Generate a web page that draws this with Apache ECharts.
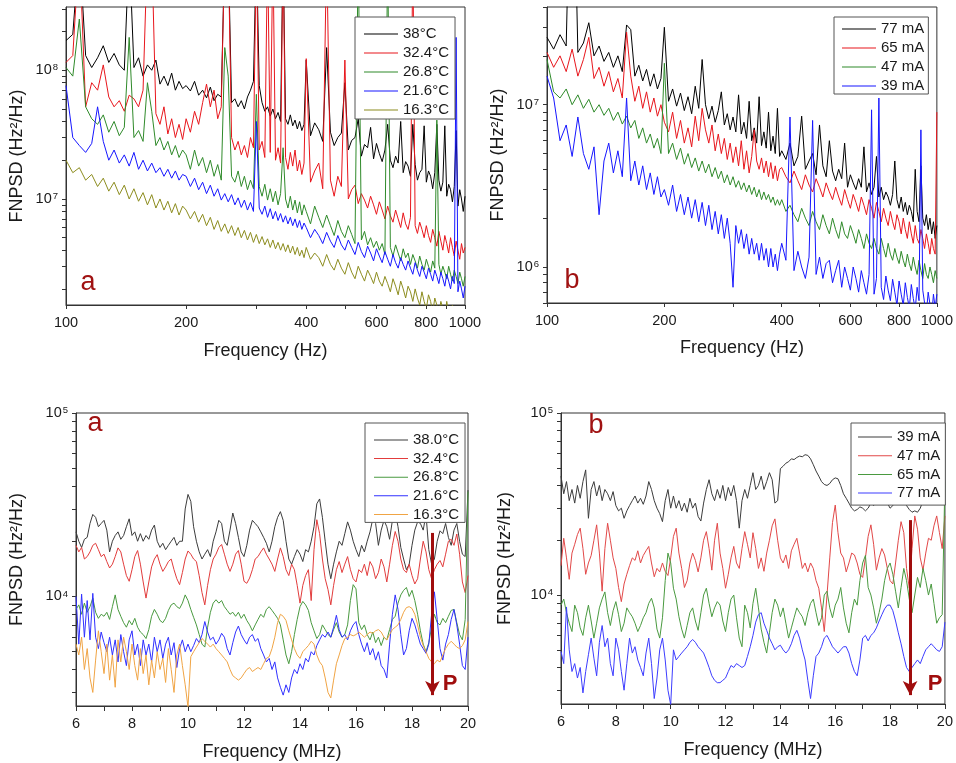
<!DOCTYPE html>
<html><head><meta charset="utf-8">
<script src="https://cdn.jsdelivr.net/npm/echarts@6/dist/echarts.min.js"></script>
<style>html,body{margin:0;padding:0;background:#fff}#c{width:956px;height:763px}</style>
</head><body><div id="c"></div>
<script>
// ---------- frequency grids ----------
const F_TOP = [100,104,108,112,116,120,124,128,132,136,140,144,148,152,156,160,164,168,172,176,180,184,188,192,196,
200,205,210,215,220,225,230,235,240,245,250,255,260,265,270,275,280,285,290,295,300,305,310,315,320,325,330,335,340,345,350,355,360,365,370,375,380,385,390,395,
400,410,420,430,440,450,460,470,480,490,500,510,520,530,540,550,560,570,580,590,600,610,620,630,640,650,660,670,680,690,700,710,720,730,740,750,760,770,780,790,800,810,820,830,840,850,860,870,880,890,900,910,920,930,940,950,960,970,980,990,1000];
const F_BOT = [6,6.1,6.2,6.3,6.4,6.5,6.6,6.7,6.8,6.9,7,7.1,7.2,7.3,7.4,7.5,7.6,7.7,7.8,7.9,8,8.1,8.2,8.3,8.4,8.5,8.6,8.7,8.8,8.9,
9,9.1,9.2,9.3,9.4,9.5,9.6,9.7,9.8,9.9,10,10.1,10.2,10.3,10.4,10.5,10.6,10.7,10.8,10.9,11,11.1,11.2,11.3,11.4,11.5,11.6,11.7,11.8,11.9,
12,12.1,12.2,12.3,12.4,12.5,12.6,12.7,12.8,12.9,13,13.1,13.2,13.3,13.4,13.5,13.6,13.7,13.8,13.9,14,14.1,14.2,14.3,14.4,14.5,14.6,14.7,14.8,14.9,
15,15.1,15.2,15.3,15.4,15.5,15.6,15.7,15.8,15.9,16,16.1,16.2,16.3,16.4,16.5,16.6,16.7,16.8,16.9,17,17.1,17.2,17.3,17.4,17.5,17.6,17.7,17.8,17.9,
18,18.1,18.2,18.3,18.4,18.5,18.6,18.7,18.8,18.9,19,19.1,19.2,19.3,19.4,19.5,19.6,19.7,19.8,19.9,20];

const TOP_UNIT = 1e5;   // top panel values are in units of 1e5 Hz^2/Hz
const BOT_UNIT = 100;   // bottom panel values are in units of 100 Hz^2/Hz

// ---------- top-left (temperature, Hz) ----------
const TL_38 = [1700,1900,9000,1300,1050,1250,1550,1150,1350,1100,1000,9000,1050,1250,900,1100,1000,1200,780,900,760,950,700,820,720,
760,690,820,640,700,610,740,580,650,620,9000,9000,560,600,520,580,500,620,700,820,9000,760,560,480,520,440,500,420,470,400,9000,420,380,450,370,410,350,400,340,380,
1200,310,390,345,280,1500,330,260,300,325, 800,240,285,300,420,215,265,250,360,205, 270,225,195,240,380,200,175,215,190,400,
160,195,180,150,380,185,140,160,170,370, 135,165,150,120,160,380,140,115,135,370, 105,130,118,95,125,340,88,118,100,80, 105];
const TL_32 = [1150,1300,9000,520,800,700,1100,620,520,580,480,640,600,520,700,9000,9000,460,380,520,320,420,300,380,290,
420,330,480,380,560,780,520,700,420,520,9000,9000,300,240,280,220,260,210,300,250,9000,240,280,210,9000,230,9000,200,250,190,9000,210,170,230,180,240,165,200,155,190,
1230,135,165,190,120,9000,140,105,150,125, 1200,100,118,128,92,110,98,85,105,90, 76,95,82,70,88,74,66,82,70,60,
78,64,58,72,9000,62,54,66,58,50, 62,52,46,58,50,43,56,47,40,52, 45,38,50,42,36,47,40,34,45,38, 42];
const TL_26 = [1050,900,2500,520,420,380,450,330,400,310,360,1800,300,340,280,800,480,260,300,240,280,220,260,210,240,
220,170,240,180,210,160,200,150,185,140,1500,900,150,135,165,125,150,118,140,120,650,125,105,130,98,120,95,115,90,110,250,100,85,105,82,98,78,95,75,90,
80,64,88,72,60,75,62,52,68,56, 50,62,53,45,9000,48,56,44,50,42, 47,40,45,37,9000,42,36,44,38,33,
41,35,38,31,37,33,29,36,31,28, 34,30,27,33,29,410,31,26,30,27, 24,30,26,23,28,25,22,27,24,21, 25];
const TL_21 = [760,300,260,230,270,520,280,200,240,190,220,180,230,170,200,165,190,160,175,150,170,145,165,140,155,
150,125,145,118,135,110,128,105,120,98,110,95,108,90,102,86,98,82,94,80,400,85,76,88,72,84,70,80,68,77,66,74,64,72,62,70,60,68,58,65,
60,50,58,52,45,55,47,42,52,44, 40,48,42,37,46,39,35,43,38,33, 41,36,32,39,34,30,37,32,29,35,
31,28,33,29,26,32,28,25,30,27, 24,29,26,23,28,25,22,27,24,21, 26,23,20,25,22,1800,19,23,20,17, 21];
const TL_16 = [200,160,175,140,155,125,145,115,135,108,128,100,120,96,112,90,108,85,100,82,96,78,92,75,88,
82,70,80,66,76,62,72,58,68,56,64,54,62,52,60,50,57,48,55,46,53,45,51,44,49,42,48,41,46,40,45,39,44,38,43,37,42,36,40,35,
42,34,38,35,30,37,31,28,34,29, 26,32,27,24,30,26,23,28,25,22, 27,23,21,25,22,19,24,21,18,23,
20,17,21,19,16,20,17,15,19,16, 14,18,16,13,17,15,13,16,14,12, 16,13,12,15,13,11,14,12,11,13, 12];

// ---------- top-right (current, Hz) ----------
const TR_77 = [260,220,270,230,9000,210,240,320,200,230,185,210,170,200,160,310,290,150,175,140,165,130,155,125,145,
300,105,125,98,118,92,112,88,130,95,190,100,82,98,78,92,120,75,88,70,84,68,115,66,78,62,105,60,72,58,112,56,68,54,90,52,64,50,95,48,
52,46,58,42,48,85,40,45,50,37, 75,42,36,60,39,34,40,35,58,31, 37,33,30,35,31,55,29,33,28,31,
48,27,31,26,29,27,24,28,45,26, 23,27,22,25,21,24,22,19,40,22, 19,42,20,18,21,17,20,16,19,15, 18];
const TR_65 = [210,170,200,160,220,150,190,260,145,170,130,160,120,145,110,280,150,105,130,95,120,90,110,85,100,
78,68,90,62,80,58,72,55,85,60,95,70,58,75,52,66,50,62,46,58,44,55,42,60,40,52,38,48,70,45,40,47,38,45,36,44,35,42,34,40,
41,36,33,39,34,30,37,32,29,35, 31,27,33,29,26,31,27,24,30,26, 23,28,25,22,27,24,21,26,23,20,
25,22,19,23,20,18,22,19,17,21, 19,16,20,17,15,19,16,14,18,15, 14,17,15,13,16,14,12,15,13,12, 90];
const TR_47 = [190,120,110,125,100,115,95,108,90,100,86,95,80,90,76,85,72,80,62,72,58,66,54,62,50,
180,50,58,46,54,43,50,41,47,39,45,38,43,36,41,35,39,33,37,32,36,31,34,30,33,29,32,28,31,27,30,26,29,26,28,25,27,24,26,24,
26,22,24,21,19,23,20,18,22,19, 17,21,18,16,20,17,15,19,16,15, 18,16,14,17,15,13,16,14,13,15,
13,12,15,13,11.5,14,12,11,13,11.5, 10.5,12.5,11,10,12,10.5,9.5,11.5,10,9, 11,9.5,8.5,10.5,9,8.5,10,9,8,9.5, 8.5];
const TR_39 = [150,110,60,75,48,84,50,40,55,21,45,58,38,52,36,110,34,45,32,42,30,38,28,36,27,
30,24,32,22,28,21,27,20,26,19,25,18,24,17,22,16,21,15,20,14,7.5,18,14,17,13,16,12,15,12,14,11,14,11,13,10,13,10,12,9.5,12,
14,11,84,9.5,12.5,10,8.5,11.5,80,9, 11.5,8.5,10.5,11,8,9.5,11,7.5,10,8.5, 7.2,10,8.5,7,9.5,8,6.8,9,93,6.8,
8.5,110,7.5,6.3,8.8,7.2,6.2,8.4,7,5.8, 8.2,6.8,5.8,8,6.5,5.6,7.8,6.4,5.5,7.5, 6.2,70,7.2,6,5.2,7,5.9,5,6.8,5.6, 6.8];

// ---------- bottom-left (temperature, MHz) ----------
const BL_38 = [225,200,185,205,210,250,280,270,240,250, 260,230,175,200,215,225,205,215,240,265, 215,225,200,220,200,215,205,230,245,200,
185,195,180,190,200,210,190,200,200,300, 360,330,240,200,175,160,170,180,165,200, 225,260,250,200,190,230,285,250,210,175,
165,190,230,260,250,240,225,210,195,175, 200,240,270,290,260,200,160,150,165,180, 170,155,180,175,200,240,320,340,270,200,
150,125,150,175,200,190,220,255,230,200, 180,165,190,175,200,225,265,250,190,230, 260,240,205,260,290,240,185,160,140,150,
190,230,255,250,230,280,180,150,160,200, 228,220,250,210,190,230,250,200,170,165, 380];
const BL_32 = [190,175,185,160,165,175,190,195,180,165, 170,155,143,150,165,184,175,150,130,121, 140,165,178,150,120,98,120,145,160,169,
150,137,145,155,160,140,125,116,135,160, 177,170,160,155,130,105,90,115,140,160, 170,185,192,170,150,137,150,170,178,150,
121,118,126,140,160,165,175,184,170,160, 150,137,160,184,165,140,130,150,140,115, 92,115,130,140,95,180,262,220,160,125,
109,90,115,140,155,135,150,165,140,125, 120,140,135,150,130,155,145,125,135,160, 145,120,150,190,226,200,160,140,135,150,
130,117,125,160,200,175,140,125,140,150, 157,145,170,200,205,190,219,170,120,105, 130];
const BL_26 = [85,90,80,92,82,88,98,82,76,80, 78,82,75,88,102,85,78,72,68,74, 70,76,68,64,62,59,66,78,85,80,
74,72,76,84,90,92,88,86,92,102, 95,85,77,70,62,55,53,68,82,92, 96,92,95,88,84,80,82,78,82,76,
80,74,70,65,70,75,80,77,85,88, 84,80,76,70,58,48,43,50,62,75, 88,94,90,84,72,65,59,62,70,66,
62,60,66,72,64,60,62,70,95,116, 110,72,66,70,62,58,64,56,60,54, 60,58,66,75,78,92,102,108,112,100,
108,95,80,65,55,50,56,68,80,72, 70,76,72,78,84,85,72,62,58,75, 373];
const BL_21 = [100,55,103,60,95,58,104,60,52,64, 56,50,60,48,58,44,62,50,42,58, 65,48,55,42,58,48,55,44,60,50,
58,46,55,60,48,56,41,52,58,50, 55,50,54,59,56,62,73,64,58,60, 55,58,63,60,52,48,56,64,69,62,
58,55,60,62,57,59,52,48,44,46, 40,44,36,32,29,33,30,36,40,38, 43,40,46,44,50,48,54,58,62,60,
64,60,68,79,66,60,62,58,65,70, 73,62,55,50,56,48,52,45,50,42, 40,36,55,80,102,85,62,48,52,65,
76,70,62,55,52,49,55,80,106,75, 52,45,55,62,75,85,70,55,42,40, 60];
const BL_16 = [55,48,60,40,52,36,30,45,65,50, 38,55,35,48,32,58,44,60,50,40, 55,42,35,52,38,48,33,45,36,50,
40,46,34,52,40,30,48,55,42,33, 25,47,50,53,56,59,57,55,53,55, 52,50,48,46,44,40,37,36,35,36,
38,40,41,39,40,41,40,43,46,47, 52,60,72,80,78,74,65,58,52,48, 46,50,52,54,57,55,48,44,42,36,
30,28,35,43,48,54,59,60,62,61, 62,64,62,60,62,64,63,65,66,64, 60,58,62,66,68,70,75,82,87,88,
86,80,70,60,54,50,46,44,43,45, 44,48,52,55,57,55,53,52,54,58, 73];

// ---------- bottom-right (current, MHz) ----------
const BR_39 = [450,360,420,330,380,320,400,340,420,487, 264,380,420,350,400,330,380,360,330,370, 310,290,300,264,290,310,330,350,320,340,
315,350,420,380,330,300,280,253,330,380, 300,350,300,330,290,320,285,340,300,320, 270,255,320,380,430,360,330,380,340,400,
330,390,350,400,330,233,330,380,340,400, 470,380,400,450,380,420,470,430,320,330, 495,510,530,540,560,555,570,580,575,590,
585,560,520,480,450,420,405,400,410,430, 440,435,400,360,340,320,300,290,295,305, 300,290,300,320,310,330,320,340,330,320,
300,310,330,320,340,330,310,295,285,290, 285,300,330,360,380,400,420,430,440,430, 420];
const BR_47 = [145,205,160,122,170,190,215,233,180,130, 150,165,200,243,170,105,180,248,200,160, 140,110,92,115,130,145,160,155,175,150,
165,175,185,150,126,140,134,150,135,128, 160,210,233,170,140,110,120,150,170,155, 134,160,200,223,180,137,200,248,170,140,
109,130,160,185,150,140,180,223,190,160, 220,180,140,160,135,170,200,240,262,200, 160,150,166,140,175,190,205,170,140,150,
134,150,140,120,109,85,63,100,160,250, 312,220,170,160,134,150,170,166,150,130, 125,160,210,243,190,137,160,180,166,140,
120,115,150,200,253,220,140,109,180,272, 230,160,137,170,205,200,240,272,220,180, 272];
const BR_65 = [88,95,80,70,63,88,80,66,60,75, 88,72,58,70,85,95,104,80,68,82, 92,78,63,70,85,80,76,70,63,68,
75,80,90,96,85,65,58,75,120,170, 150,109,95,76,65,58,68,80,85,72, 64,80,100,109,90,76,85,92,88,72,
63,80,95,100,75,58,52,88,80,66, 90,109,85,65,55,48,62,80,95,88, 76,85,70,58,66,75,85,80,76,68,
80,90,95,80,68,75,100,105,85,75, 88,95,110,85,70,62,80,95,88,120, 150,165,110,100,85,70,80,95,120,140,
150,130,105,85,110,140,120,95,80,100, 125,110,140,120,100,115,90,70,75,78, 420];
const BR_77 = [49,42,86,50,38,42,35,40,29,38, 47,58,45,36,55,68,52,58,42,36, 58,50,38,30,42,58,48,52,44,40,
36,48,58,42,27,35,50,58,44,30, 25,50,44,46,48,50,52,55,57,55, 52,50,48,44,40,36,34,33,33,34,
35,38,41,40,42,41,40,41,46,52, 60,71,78,80,70,64,58,54,50,52, 53,50,48,50,54,60,64,58,50,44,
34,27,36,46,48,52,58,60,56,52, 50,48,50,52,52,48,42,38,36,44, 58,60,56,60,62,66,72,78,84,88,
88,82,72,62,54,46,40,38,40,42, 44,42,46,50,52,54,52,50,49,52, 71];

// ---------- names / ticks ----------
const TL_NAMES = ['38°C','32.4°C','26.8°C','21.6°C','16.3°C'];
const TR_NAMES = ['77 mA','65 mA','47 mA','39 mA'];
const BL_NAMES = ['38.0°C','32.4°C ','26.8°C ','21.6°C ','16.3°C '];
const BR_NAMES = ['39 mA ','47 mA ','65 mA ','77 mA '];

const X_HZ_LABELS = [100,200,400,600,800,1000];
const X_HZ_TICKS = [100,200,300,400,500,600,700,800,900,1000];
const TL_Y_LABELS = [1e7,1e8];
const TL_Y_TICKS = [2e6,3e6,4e6,5e6,6e6,7e6,8e6,9e6,1e7,2e7,3e7,4e7,5e7,6e7,7e7,8e7,9e7,1e8,2e8,3e8];
const TR_Y_LABELS = [1e6,1e7];
const TR_Y_TICKS = [6e5,7e5,8e5,9e5,1e6,2e6,3e6,4e6,5e6,6e6,7e6,8e6,9e6,1e7,2e7,3e7,4e7];
const B_Y_LABELS = [1e4,1e5];
const B_Y_TICKS = [3e3,4e3,5e3,6e3,7e3,8e3,9e3,1e4,2e4,3e4,4e4,5e4,6e4,7e4,8e4,9e4,1e5];

// arrow "P" annotations (data coordinates)
const ARROW_BL = {f:18.73, from:22200, to:2900};
const ARROW_BR = {f:18.73, from:25800, to:2820};

// ---------- build ----------
const FONT = '"Liberation Sans", Arial, Helvetica, sans-serif';
const TXT = '#1a1a1a';
const AX = '#333333';

function pairs(xs, ys, unit){ return xs.map((x,i)=>[x, ys[i]*unit]); }

function yLog(grid, min, max, labels, ticks, gap){
  return {type:'log', logBase:10, gridIndex:grid, min:min, max:max,
    name:'FNPSD (Hz²/Hz)', nameLocation:'middle', nameGap:gap,
    nameTextStyle:{fontSize:18, color:TXT, fontFamily:FONT},
    axisLine:{show:true, lineStyle:{color:AX, width:1}},
    axisTick:{show:true, inside:false, length:4, customValues:ticks, lineStyle:{color:AX}},
    axisLabel:{customValues:labels, margin:8, color:TXT,
      formatter:function(v){ return '{b|10}{s|' + Math.round(Math.log10(v)) + '}'; },
      rich:{b:{fontSize:14.5, fontFamily:FONT, color:TXT}, s:{fontSize:9.5, fontFamily:FONT, color:TXT, verticalAlign:'top', padding:[0,0,0,1]}}},
    splitLine:{show:false}};
}
function xLog(grid, gap){
  return {type:'log', logBase:10, gridIndex:grid, min:100, max:1000,
    name:'Frequency (Hz)', nameLocation:'middle', nameGap:gap,
    nameTextStyle:{fontSize:18, color:TXT, fontFamily:FONT},
    axisLine:{show:true, lineStyle:{color:AX, width:1}},
    axisTick:{show:true, inside:false, length:4, customValues:X_HZ_TICKS, lineStyle:{color:AX}},
    axisLabel:{customValues:X_HZ_LABELS, margin:10, fontSize:14.5, fontFamily:FONT, color:TXT,
      formatter:function(v){ return String(Math.round(v)); }},
    splitLine:{show:false}};
}
function xLin(grid, gap){
  return {type:'value', gridIndex:grid, min:6, max:20, interval:2,
    name:'Frequency (MHz)', nameLocation:'middle', nameGap:gap,
    nameTextStyle:{fontSize:18, color:TXT, fontFamily:FONT},
    axisLine:{show:true, onZero:false, lineStyle:{color:AX, width:1}},
    axisTick:{show:true, inside:false, length:5, lineStyle:{color:AX}},
    minorTick:{show:true, splitNumber:2, length:5, lineStyle:{color:AX}},
    axisLabel:{margin:10, fontSize:14.5, fontFamily:FONT, color:TXT},
    splitLine:{show:false}, minorSplitLine:{show:false}};
}
function lineSeries(name, color, xi, yi, data, width){
  return {type:'line', name:name, xAxisIndex:xi, yAxisIndex:yi, data:data,
    showSymbol:false, symbol:'none', animation:false, silent:true,
    lineStyle:{color:color, width:width}, itemStyle:{color:color}};
}
function legend(names, left, top, padding, gap){
  return {data:names, orient:'vertical', left:left, top:top, padding:padding, itemGap:gap,
    icon:'rect', itemWidth:34, itemHeight:1, selectedMode:false,
    backgroundColor:'#ffffff', borderColor:'#555555', borderWidth:1,
    formatter:function(n){ return n.trim(); },
    textStyle:{fontSize:15, lineHeight:16, fontFamily:FONT, color:TXT}};
}

const series = [];
const TL_DATA = [TL_38, TL_32, TL_26, TL_21, TL_16];
const TL_COL = ['#000000','#e8161c','#2f8a2a','#1616ff','#8c8c1e'];
TL_DATA.forEach((d,i)=>series.push(lineSeries(TL_NAMES[i], TL_COL[i], 0, 0, pairs(F_TOP, d, TOP_UNIT), 1)));
const TR_DATA = [TR_77, TR_65, TR_47, TR_39];
const TR_COL = ['#000000','#e8161c','#2f8a2a','#1616ff'];
TR_DATA.forEach((d,i)=>series.push(lineSeries(TR_NAMES[i], TR_COL[i], 1, 1, pairs(F_TOP, d, TOP_UNIT), 1)));
const BL_DATA = [BL_38, BL_32, BL_26, BL_21, BL_16];
const BL_COL = ['#3c3c3c','#e23c3c','#4a9a40','#3030ff','#f0a444'];
BL_DATA.forEach((d,i)=>series.push(lineSeries(BL_NAMES[i], BL_COL[i], 2, 2, pairs(F_BOT, d, BOT_UNIT), 1)));
const BR_DATA = [BR_39, BR_47, BR_65, BR_77];
const BR_COL = ['#3c3c3c','#e24848','#4a9a40','#3c3cff'];
BR_DATA.forEach((d,i)=>series.push(lineSeries(BR_NAMES[i], BR_COL[i], 3, 3, pairs(F_BOT, d, BOT_UNIT), 1)));

function arrowLine(a){
  return {silent:true, animation:false, symbol:['none','arrow'], symbolSize:[11,14],
    lineStyle:{color:'#a00d0d', width:3, type:'solid'}, label:{show:false},
    data:[[{coord:[a.f, a.from]}, {coord:[a.f, a.to]}]]};
}
series[13].markLine = arrowLine(ARROW_BL);
series[17].markLine = arrowLine(ARROW_BR);

const gridBase = {show:true, borderColor:AX, borderWidth:1, backgroundColor:'transparent'};
const option = {
  backgroundColor:'#ffffff', animation:false,
  textStyle:{fontFamily:FONT},
  grid:[
    Object.assign({left:66, top:7, width:399, height:298}, gridBase),
    Object.assign({left:547, top:7, width:396, height:296}, gridBase),
    Object.assign({left:76, top:413, width:392, height:293}, gridBase),
    Object.assign({left:561, top:413, width:391, height:291}, gridBase)
  ],
  xAxis:[xLog(0, 37), xLog(1, 36), xLin(2, 37), xLin(3, 37)],
  yAxis:[
    yLog(0, 1.5e6, 3.1e8, TL_Y_LABELS, TL_Y_TICKS, 40),
    yLog(1, 6e5, 4e7, TR_Y_LABELS, TR_Y_TICKS, 40),
    yLog(2, 2530, 1e5, B_Y_LABELS, B_Y_TICKS, 50),
    yLog(3, 2520, 1e5, B_Y_LABELS, B_Y_TICKS, 47)
  ],
  legend:[
    legend(TL_NAMES, 355, 17, [9,6,1,9], 3),
    legend(TR_NAMES, 834, 17, [4,4,0,8], 3),
    legend(BL_NAMES, 365, 423, [9,6,0,9], 2.6),
    legend(BR_NAMES, 851, 423, [6,5,4,7], 2.7)
  ],
  graphic:[
    {type:'text', x:88, y:283, style:{text:'a', fontSize:27, fontFamily:FONT, fill:'#a01212', align:'center', verticalAlign:'middle'}},
    {type:'text', x:572, y:281, style:{text:'b', fontSize:27, fontFamily:FONT, fill:'#a01212', align:'center', verticalAlign:'middle'}},
    {type:'text', x:95, y:424, style:{text:'a', fontSize:27, fontFamily:FONT, fill:'#a01212', align:'center', verticalAlign:'middle'}},
    {type:'text', x:596, y:426, style:{text:'b', fontSize:27, fontFamily:FONT, fill:'#a01212', align:'center', verticalAlign:'middle'}},
    {type:'text', x:450, y:684, style:{text:'P', fontSize:22, fontWeight:'bold', fontFamily:FONT, fill:'#a00d0d', align:'center', verticalAlign:'middle'}},
    {type:'text', x:935, y:684, style:{text:'P', fontSize:22, fontWeight:'bold', fontFamily:FONT, fill:'#a00d0d', align:'center', verticalAlign:'middle'}}
  ],
  series:series
};
const chart = echarts.init(document.getElementById('c'), null, {renderer:'canvas'});
chart.setOption(option);
</script>
</body></html>
